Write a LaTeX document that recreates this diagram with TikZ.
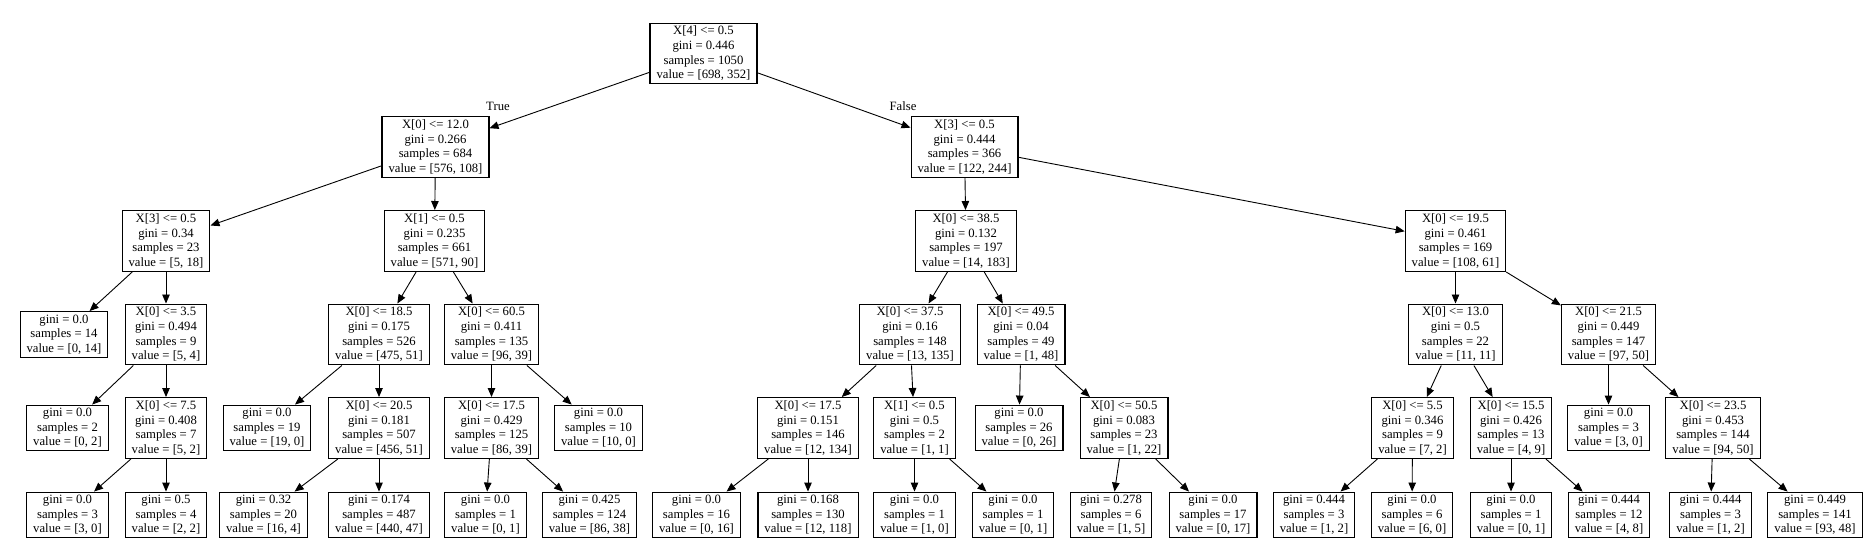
\documentclass[tikz,border=0pt]{standalone}
\usepackage{fontspec}
\setmainfont{Liberation Serif}
\usepackage{tikz}
\usetikzlibrary{positioning, arrows.meta}

\begin{document}
\begin{tikzpicture}[
    x=1pt, y=-1pt,
    >={Triangle[width=7.5pt,length=9pt]},
    split/.style={rectangle, draw=black, line width=1.1pt, align=center, inner xsep=6.5pt, inner ysep=3pt},
    leaf/.style={split},
    edge/.style={->, line width=0.9pt},
    every node/.style={font=\fontsize{12.7}{14.7}\selectfont}
]

\useasboundingbox (0,0) rectangle (1873,556);

% Nodes
\node[split] (r) at (703.5,53.5) {X[4] <= 0.5\\gini = 0.446\\samples = 1050\\value = [698, 352]};

\node[split] (l) at (435.5,147) {X[0] <= 12.0\\gini = 0.266\\samples = 684\\value = [576, 108]};
\node[split] (rt) at (964.5,147) {X[3] <= 0.5\\gini = 0.444\\samples = 366\\value = [122, 244]};

\node[split] (ll) at (166,241) {X[3] <= 0.5\\gini = 0.34\\samples = 23\\value = [5, 18]};
\node[split] (lr) at (434.5,241) {X[1] <= 0.5\\gini = 0.235\\samples = 661\\value = [571, 90]};
\node[split] (rl) at (966,241) {X[0] <= 38.5\\gini = 0.132\\samples = 197\\value = [14, 183]};
\node[split] (rr) at (1455.5,241) {X[0] <= 19.5\\gini = 0.461\\samples = 169\\value = [108, 61]};

\node[leaf] (lll) at (64,334.5) {gini = 0.0\\samples = 14\\value = [0, 14]};
\node[split] (llr) at (166,334.5) {X[0] <= 3.5\\gini = 0.494\\samples = 9\\value = [5, 4]};
\node[split] (lrl) at (379,334.5) {X[0] <= 18.5\\gini = 0.175\\samples = 526\\value = [475, 51]};
\node[split] (lrr) at (491.5,334.5) {X[0] <= 60.5\\gini = 0.411\\samples = 135\\value = [96, 39]};
\node[split] (rll) at (910,334.5) {X[0] <= 37.5\\gini = 0.16\\samples = 148\\value = [13, 135]};
\node[split] (rlr) at (1021,334.5) {X[0] <= 49.5\\gini = 0.04\\samples = 49\\value = [1, 48]};
\node[split] (rrl) at (1455.5,334.5) {X[0] <= 13.0\\gini = 0.5\\samples = 22\\value = [11, 11]};
\node[split] (rrr) at (1608.5,334.5) {X[0] <= 21.5\\gini = 0.449\\samples = 147\\value = [97, 50]};

\node[leaf] (llrl) at (67.5,428) {gini = 0.0\\samples = 2\\value = [0, 2]};
\node[split] (llrr) at (166,428) {X[0] <= 7.5\\gini = 0.408\\samples = 7\\value = [5, 2]};
\node[leaf] (lrll) at (267,428) {gini = 0.0\\samples = 19\\value = [19, 0]};
\node[split] (lrlr) at (379,428) {X[0] <= 20.5\\gini = 0.181\\samples = 507\\value = [456, 51]};
\node[split] (lrrl) at (491.5,428) {X[0] <= 17.5\\gini = 0.429\\samples = 125\\value = [86, 39]};
\node[leaf] (lrrr) at (598.5,428) {gini = 0.0\\samples = 10\\value = [10, 0]};
\node[split] (rlll) at (808,428) {X[0] <= 17.5\\gini = 0.151\\samples = 146\\value = [12, 134]};
\node[split] (rllr) at (914.5,428) {X[1] <= 0.5\\gini = 0.5\\samples = 2\\value = [1, 1]};
\node[leaf] (rlrl) at (1019,428) {gini = 0.0\\samples = 26\\value = [0, 26]};
\node[split] (rlrr) at (1124,428) {X[0] <= 50.5\\gini = 0.083\\samples = 23\\value = [1, 22]};
\node[split] (rrll) at (1412.5,428) {X[0] <= 5.5\\gini = 0.346\\samples = 9\\value = [7, 2]};
\node[split] (rrlr) at (1511,428) {X[0] <= 15.5\\gini = 0.426\\samples = 13\\value = [4, 9]};
\node[leaf] (rrrl) at (1608.5,428) {gini = 0.0\\samples = 3\\value = [3, 0]};
\node[split] (rrrr) at (1713,428) {X[0] <= 23.5\\gini = 0.453\\samples = 144\\value = [94, 50]};

\node[leaf] (llrrl) at (67.5,515) {gini = 0.0\\samples = 3\\value = [3, 0]};
\node[leaf] (llrrr) at (166,515) {gini = 0.5\\samples = 4\\value = [2, 2]};
\node[leaf] (lrlrl) at (263.5,515) {gini = 0.32\\samples = 20\\value = [16, 4]};
\node[leaf] (lrlrr) at (379,515) {gini = 0.174\\samples = 487\\value = [440, 47]};
\node[leaf] (lrrll) at (485.5,515) {gini = 0.0\\samples = 1\\value = [0, 1]};
\node[leaf] (lrrlr) at (589.5,515) {gini = 0.425\\samples = 124\\value = [86, 38]};
\node[leaf] (rllll) at (696.5,515) {gini = 0.0\\samples = 16\\value = [0, 16]};
\node[leaf] (rlllr) at (808,515) {gini = 0.168\\samples = 130\\value = [12, 118]};
\node[leaf] (rllrl) at (914.5,515) {gini = 0.0\\samples = 1\\value = [1, 0]};
\node[leaf] (rllrr) at (1013,515) {gini = 0.0\\samples = 1\\value = [0, 1]};
\node[leaf] (rlrrl) at (1111,515) {gini = 0.278\\samples = 6\\value = [1, 5]};
\node[leaf] (rlrrr) at (1213,515) {gini = 0.0\\samples = 17\\value = [0, 17]};
\node[leaf] (rrlll) at (1314,515) {gini = 0.444\\samples = 3\\value = [1, 2]};
\node[leaf] (rrllr) at (1412,515) {gini = 0.0\\samples = 6\\value = [6, 0]};
\node[leaf] (rrlrl) at (1511,515) {gini = 0.0\\samples = 1\\value = [0, 1]};
\node[leaf] (rrlrr) at (1609,515) {gini = 0.444\\samples = 12\\value = [4, 8]};
\node[leaf] (rrrrl) at (1710.5,515) {gini = 0.444\\samples = 3\\value = [1, 2]};
\node[leaf] (rrrrr) at (1815,515) {gini = 0.449\\samples = 141\\value = [93, 48]};

% Branch labels
\node (truelab) at (498,106) {True};
\node (falselab) at (903,106) {False};

% Edges
\draw[edge] (r) -- (l);
\draw[edge] (r) -- (rt);
\draw[edge] (l) -- (ll);
\draw[edge] (l) -- (lr);
\draw[edge] (rt) -- (rl);
\draw[edge] (rt) -- (rr);
\draw[edge] (ll) -- (lll);
\draw[edge] (ll) -- (llr);
\draw[edge] (lr) -- (lrl);
\draw[edge] (lr) -- (lrr);
\draw[edge] (rl) -- (rll);
\draw[edge] (rl) -- (rlr);
\draw[edge] (rr) -- (rrl);
\draw[edge] (rr) -- (rrr);
\draw[edge] (llr) -- (llrl);
\draw[edge] (llr) -- (llrr);
\draw[edge] (lrl) -- (lrll);
\draw[edge] (lrl) -- (lrlr);
\draw[edge] (lrr) -- (lrrl);
\draw[edge] (lrr) -- (lrrr);
\draw[edge] (rll) -- (rlll);
\draw[edge] (rll) -- (rllr);
\draw[edge] (rlr) -- (rlrl);
\draw[edge] (rlr) -- (rlrr);
\draw[edge] (rrl) -- (rrll);
\draw[edge] (rrl) -- (rrlr);
\draw[edge] (rrr) -- (rrrl);
\draw[edge] (rrr) -- (rrrr);
\draw[edge] (llrr) -- (llrrl);
\draw[edge] (llrr) -- (llrrr);
\draw[edge] (lrlr) -- (lrlrl);
\draw[edge] (lrlr) -- (lrlrr);
\draw[edge] (lrrl) -- (lrrll);
\draw[edge] (lrrl) -- (lrrlr);
\draw[edge] (rlll) -- (rllll);
\draw[edge] (rlll) -- (rlllr);
\draw[edge] (rllr) -- (rllrl);
\draw[edge] (rllr) -- (rllrr);
\draw[edge] (rlrr) -- (rlrrl);
\draw[edge] (rlrr) -- (rlrrr);
\draw[edge] (rrll) -- (rrlll);
\draw[edge] (rrll) -- (rrllr);
\draw[edge] (rrlr) -- (rrlrl);
\draw[edge] (rrlr) -- (rrlrr);
\draw[edge] (rrrr) -- (rrrrl);
\draw[edge] (rrrr) -- (rrrrr);

\end{tikzpicture}
\end{document}
